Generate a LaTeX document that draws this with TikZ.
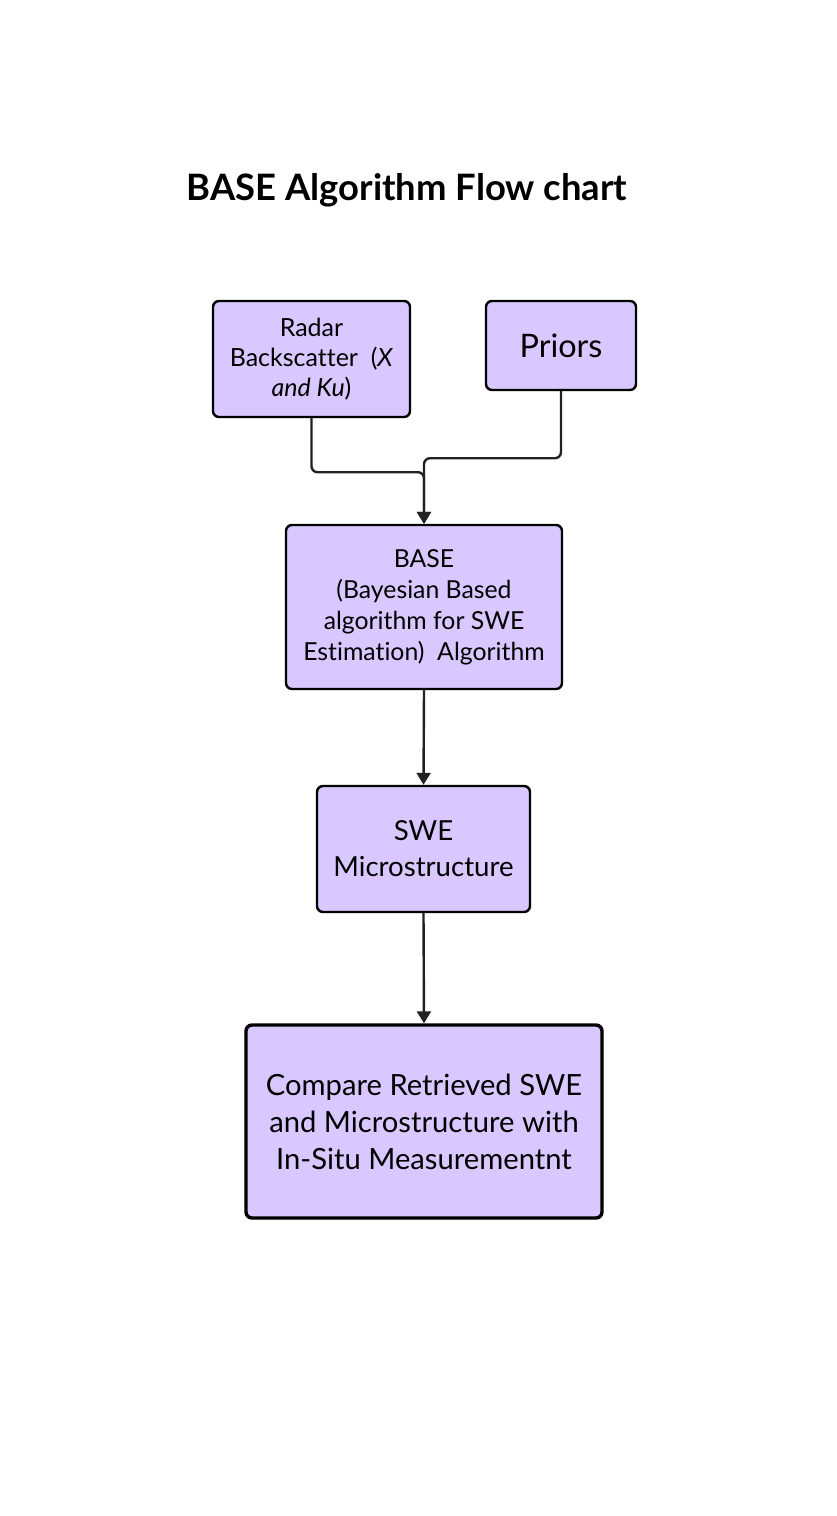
\documentclass[tikz,border=0pt]{standalone}
\usepackage{fontspec}
\setmainfont{Lato}[Ligatures={NoCommon}]
\usepackage{xcolor}
\usetikzlibrary{arrows.meta}
\definecolor{boxfill}{RGB}{216,200,255}
\definecolor{edge}{RGB}{34,34,34}

\begin{document}
\begin{tikzpicture}[x=0.5pt, y=-0.5pt,
    box/.style={draw=black, line width=1.2pt, fill=boxfill, rounded corners=3pt,
                align=center, inner sep=0pt, text=black},
    flow/.style={draw=edge, line width=1.2pt, rounded corners=3pt,
                 -{Triangle[length=6pt, width=7pt]}}]
    \useasboundingbox (0, 0) rectangle (836, 1516);
    % Title
    \node[font={\fontsize{18.2}{22}\selectfont\bfseries}] (title) at (407, 190) {BASE Algorithm Flow chart};

    % Inputs
    \node[box, font={\fontsize{12.5}{15}\selectfont}, minimum width=98.5pt, minimum height=58pt] (radar) at (311.5, 359)
        {Radar\\Backscatter~~(\textit{X}\\\textit{and Ku})};
    \node[box, font={\fontsize{16.2}{19}\selectfont}, minimum width=75pt, minimum height=44.5pt] (priors) at (561, 345.5)
        {Priors};

    % Retrieval
    \node[box, font={\fontsize{12.4}{15.5}\selectfont}, minimum width=138pt, minimum height=82pt] (base) at (424, 607)
        {BASE\\(Bayesian Based\\algorithm for SWE\\Estimation)~~Algorithm};
    \node[box, font={\fontsize{13.8}{18}\selectfont}, minimum width=106.5pt, minimum height=63pt] (swe) at (423.5, 849)
        {SWE\\Microstructure};

    % Validation
    \node[box, font={\fontsize{14.6}{18.5}\selectfont}, line width=1.7pt, minimum width=178pt, minimum height=96.5pt] (compare) at (424, 1121.5)
        {Compare Retrieved SWE\\and Microstructure with\\In-Situ Measurementnt};

    % Connectors
    \draw[flow] (radar.south) -- ++(0, 54) -| (base.north);
    \draw[flow] (priors.south) -- ++(0, 67) -| (base.north);
    \draw[flow] (base.south) -- (swe.north);
    \draw[flow] (swe.south) -- (compare.north);
\end{tikzpicture}
\end{document}
